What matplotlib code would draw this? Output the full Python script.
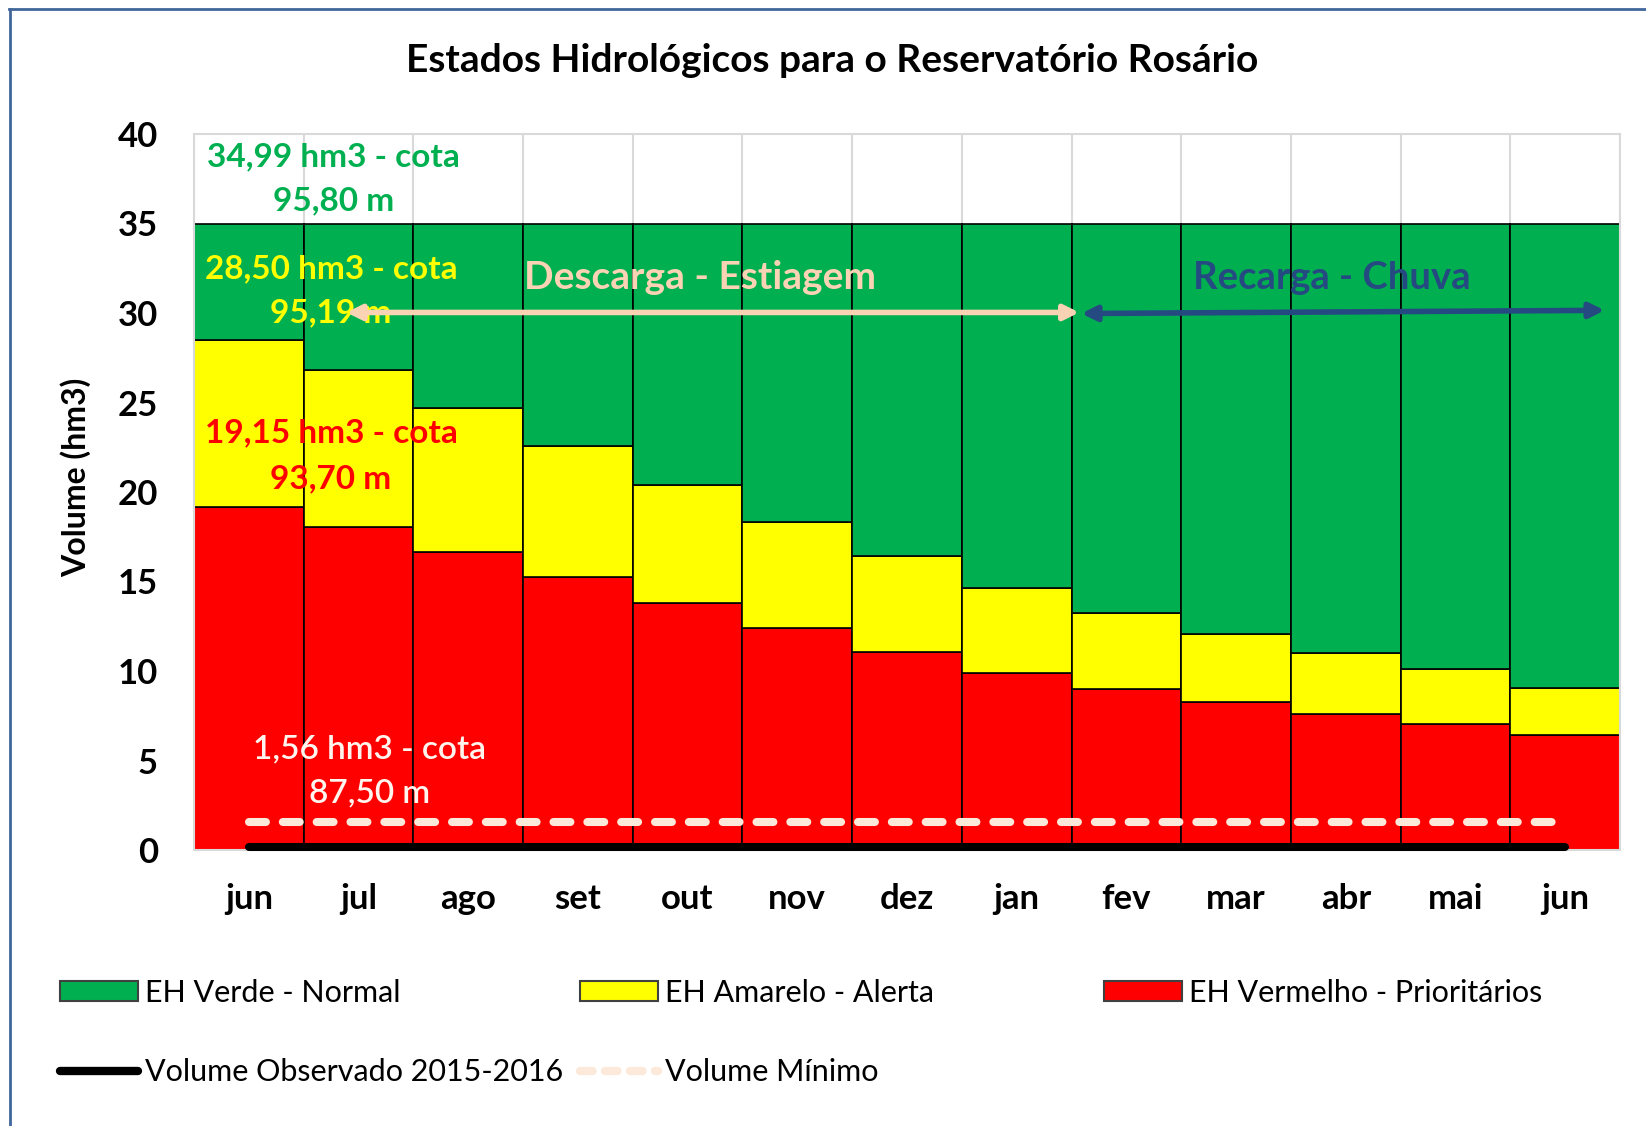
import matplotlib
matplotlib.use("Agg")
import matplotlib.pyplot as plt
from matplotlib.patches import Patch
from matplotlib.lines import Line2D
import numpy as np

plt.rcParams['font.family'] = ['Lato', 'DejaVu Sans']

months = ["jun", "jul", "ago", "set", "out", "nov", "dez", "jan", "fev", "mar", "abr", "mai", "jun"]
vermelho_top = [19.15, 18.06, 16.66, 15.25, 13.78, 12.38, 11.08, 9.91, 8.97, 8.27, 7.62, 7.04, 6.45]
amarelo_top = [28.50, 26.80, 24.69, 22.58, 20.41, 18.30, 16.42, 14.66, 13.26, 12.08, 11.03, 10.09, 9.03]
verde_top = [34.99] * 13
volume_observado = [0.18] * 13
volume_minimo = [1.56] * 13

C_GREEN = "#00B050"
C_YELLOW = "#FFFF00"
C_RED = "#FF0000"
C_PEACH = "#FAD3B4"
C_MIN = "#FDE9D9"
C_BLUE = "#254A82"

fig = plt.figure(figsize=(16.46, 11.26), dpi=100)
ax = fig.add_axes([194/1646, 1-850/1126, (1620-194)/1646, (850-134)/1126])

x = np.arange(len(months))
red = np.array(vermelho_top)
yel = np.array(amarelo_top)
grn = np.array(verde_top)

ax.bar(x, red, width=1.0, color=C_RED, edgecolor="black", linewidth=1.2, zorder=2)
ax.bar(x, yel - red, bottom=red, width=1.0, color=C_YELLOW, edgecolor="black", linewidth=1.2, zorder=2)
ax.bar(x, grn - yel, bottom=yel, width=1.0, color=C_GREEN, edgecolor="black", linewidth=1.2, zorder=2)

ax.plot(x, volume_minimo, color=C_MIN, lw=5.8, dashes=(2.1, 2.1), dash_capstyle="round", zorder=4)
ax.plot(x, volume_observado, color="black", lw=5.8, solid_capstyle="round", zorder=4, clip_on=False)

ax.set_xlim(-0.5, len(months) - 0.5)
ax.set_ylim(0, 40)
ax.set_yticks(np.arange(0, 41, 5))
ax.set_xticks(x)
ax.set_xticklabels(months)
ax.set_xticks(np.arange(-0.5, len(months)), minor=True)
ax.grid(True, which="minor", axis="x", color="#D9D9D9", lw=1.5, zorder=0)
ax.set_axisbelow(True)
ax.tick_params(axis="both", which="both", length=0)
ax.tick_params(axis="y", pad=26, labelsize=25)
ax.tick_params(axis="x", pad=24, labelsize=25)
for lab in ax.get_xticklabels() + ax.get_yticklabels():
    lab.set_fontweight("bold")
for s in ax.spines.values():
    s.set_color("#D9D9D9")
    s.set_linewidth(1.5)

ax.set_ylabel("Volume (hm3)", fontsize=23, fontweight="bold")
ax.yaxis.set_label_coords(-0.072, 0.52)

# annotations
def two_lines(xc, y1, y2, l1, l2, color, weight="bold"):
    ax.text(xc, y1, l1, color=color, fontsize=24, fontweight=weight, ha="center", va="center", zorder=5)
    ax.text(xc, y2, l2, color=color, fontsize=24, fontweight=weight, ha="center", va="center", zorder=5)

two_lines(0.77, 38.71, 36.25, "34,99 hm3 - cota", "95,80 m", C_GREEN)
two_lines(0.75, 32.49, 30.03, "28,50 hm3 - cota", "95,19 m", C_YELLOW)
two_lines(0.75, 23.28, 20.76, "19,15 hm3 - cota", "93,70 m", C_RED)
two_lines(1.10, 5.63, 3.17, "1,56 hm3 - cota", "87,50 m", "#FFF5EE", weight="semibold")

ax.text(4.11, 31.96, "Descarga - Estiagem", color=C_PEACH, fontsize=28, fontweight="bold", ha="center", va="center", zorder=5)
ax.text(9.87, 31.96, "Recarga - Chuva", color=C_BLUE, fontsize=27.5, fontweight="bold", ha="center", va="center", zorder=5)

ax.annotate("", xy=(0.89, 30.03), xytext=(7.57, 30.03),
            arrowprops=dict(arrowstyle="<|-|>", color=C_PEACH, lw=4, mutation_scale=22, shrinkA=0, shrinkB=0), zorder=6)
ax.annotate("", xy=(7.59, 29.97), xytext=(12.36, 30.15),
            arrowprops=dict(arrowstyle="<|-|>", color=C_BLUE, lw=4, mutation_scale=22, shrinkA=0, shrinkB=0), zorder=6)

fig.text(832/1646, 1-61/1126, "Estados Hidrológicos para o Reservatório Rosário",
         fontsize=28, fontweight="bold", ha="center", va="center")

# legend
entries = [
    (Patch(facecolor=C_GREEN, edgecolor="#404040", lw=1.5), "EH Verde - Normal", 60, 993),
    (Patch(facecolor=C_YELLOW, edgecolor="#404040", lw=1.5), "EH Amarelo - Alerta", 580, 993),
    (Patch(facecolor=C_RED, edgecolor="#404040", lw=1.5), "EH Vermelho - Prioritários", 1104, 993),
    (Line2D([0], [0], color="black", lw=6, solid_capstyle="round"), "Volume Observado 2015-2016", 60, 1072),
    (Line2D([0], [0], color=C_MIN, lw=6, dashes=(1.5, 1.5), dash_capstyle="round"), "Volume Mínimo", 580, 1072),
]
for h, lbl, px, py in entries:
    fig.legend([h], [lbl], loc="center left", bbox_to_anchor=(px/1646, 1-py/1126),
               frameon=False, fontsize=22, handlelength=2.55, handleheight=0.65,
               handletextpad=0.22, borderpad=0, borderaxespad=0)

# outer frame (top & left)
fig.add_artist(Line2D([9/1646, 1], [1-9/1126, 1-9/1126], color="#41679A", lw=2, transform=fig.transFigure))
fig.add_artist(Line2D([10/1646, 10/1646], [0, 1-9/1126], color="#41679A", lw=2, transform=fig.transFigure))

fig.savefig("out.png", dpi=100, facecolor="white")
